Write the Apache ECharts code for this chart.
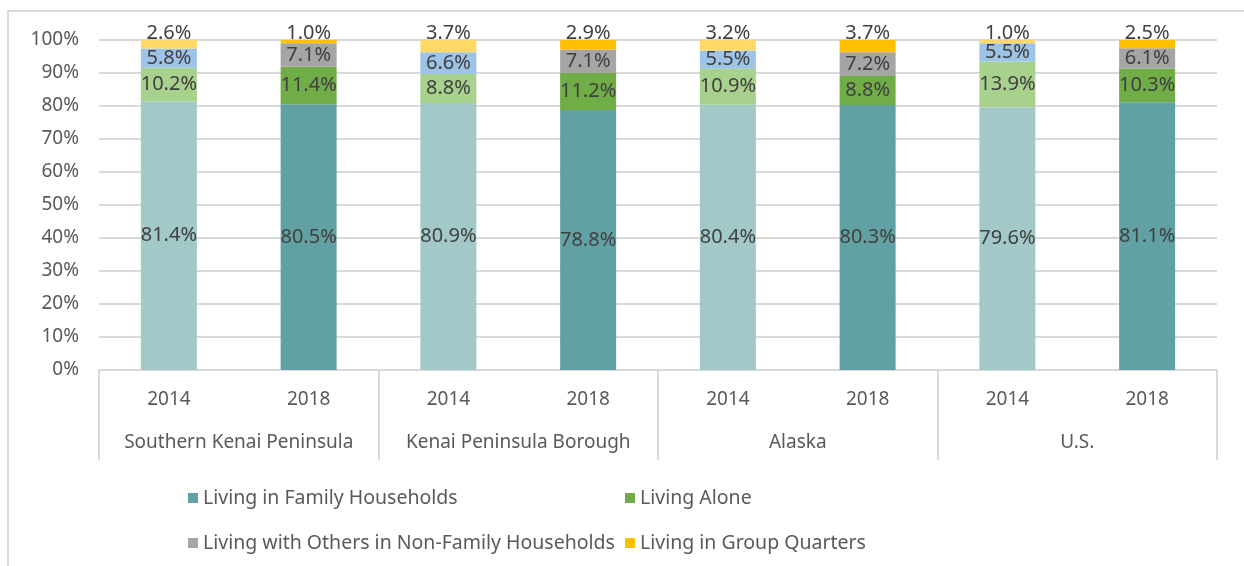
<!DOCTYPE html>
<html>
<head>
<meta charset="utf-8">
<script src="https://cdn.jsdelivr.net/npm/echarts@6/dist/echarts.min.js"></script>
<style>
  html, body { margin: 0; padding: 0; background: #fff; }
  #chart { width: 1244px; height: 566px; }
</style>
</head>
<body>
<div id="chart"></div>
<script>
// categories
let years = ['2014', '2018', '2014', '2018', '2014', '2018', '2014', '2018']
let places = ['Southern Kenai Peninsula', 'Kenai Peninsula Borough', 'Alaska', 'U.S.']
let yTicks = [0, 10, 20, 30, 40, 50, 60, 70, 80, 90, 100]

// series values (%)
let familyHouseholds = [81.4, 80.5, 80.9, 78.8, 80.4, 80.3, 79.6, 81.1]
let livingAlone = [10.2, 11.4, 8.8, 11.2, 10.9, 8.8, 13.9, 10.3]
let withOthers = [5.8, 7.1, 6.6, 7.1, 5.5, 7.2, 5.5, 6.1]
let groupQuarters = [2.6, 1.0, 3.7, 2.9, 3.2, 3.7, 1.0, 2.5]

let seriesNames = [
    'Living in Family Households',
    'Living Alone',
    'Living with Others in Non-Family Households',
    'Living in Group Quarters'
]

let font = 'Noto Sans'
let darkColors = ['#62a1a3', '#70ad47', '#a5a5a5', '#ffc000']
let lightColors = ['#a2c8c8', '#a9d18e', '#9dc3e6', '#ffd966']

function buildData(values, idx) {
    return values.map((v, i) => ({
        value: v,
        itemStyle: { color: i % 2 === 0 ? lightColors[idx] : darkColors[idx] }
    }))
}

function makeSeries(values, idx) {
    let top = idx === 3
    return {
        name: seriesNames[idx],
        type: 'bar',
        stack: 'total',
        barWidth: 56,
        color: darkColors[idx],
        data: buildData(values, idx),
        label: {
            show: true,
            position: top ? 'top' : 'inside',
            distance: top ? -3 : 5,
            formatter: p => p.value.toFixed(1) + '%',
            color: '#404040',
            fontFamily: font,
            fontSize: 20
        }
    }
}

let legendPos = [[183, 483], [620, 483], [183, 528], [620, 528]]

let myChart = echarts.init(document.querySelector('#chart'))
myChart.setOption({
    animation: false,
    graphic: [{
        type: 'rect',
        shape: { x: 8, y: 11, width: 1260, height: 600 },
        style: { fill: 'none', stroke: '#d9d9d9', lineWidth: 2 },
        silent: true,
        z: -10
    }],
    legend: legendPos.map((p, i) => ({
        data: [seriesNames[i]],
        left: p[0],
        top: p[1],
        icon: 'rect',
        itemWidth: 10,
        itemHeight: 10,
        itemGap: 4,
        textStyle: { color: '#595959', fontFamily: font, fontSize: 19.5 }
    })),
    grid: { left: 99, right: 27, top: 40, bottom: 196 },
    xAxis: [
        {
            type: 'category',
            data: years,
            axisLine: { lineStyle: { color: '#d9d9d9', width: 2 } },
            axisTick: { show: false },
            axisLabel: { interval: 0, color: '#595959', fontFamily: font, fontSize: 19, margin: 20 }
        },
        {
            type: 'category',
            data: places,
            position: 'bottom',
            axisLine: { show: false },
            axisTick: { show: true, interval: 0, length: 90, lineStyle: { color: '#d9d9d9', width: 2 } },
            axisLabel: { interval: 0, color: '#595959', fontFamily: font, fontSize: 19, margin: 63 }
        }
    ],
    yAxis: {
        type: 'value',
        min: yTicks[0],
        max: yTicks[yTicks.length - 1],
        interval: 10,
        axisLine: { show: false },
        axisTick: { show: false },
        axisLabel: { formatter: '{value}%', color: '#595959', fontFamily: font, fontSize: 19, margin: 20 },
        splitLine: { lineStyle: { color: '#d9d9d9', width: 2 } }
    },
    series: [
        makeSeries(familyHouseholds, 0),
        makeSeries(livingAlone, 1),
        makeSeries(withOthers, 2),
        makeSeries(groupQuarters, 3)
    ]
})
</script>
</body>
</html>
